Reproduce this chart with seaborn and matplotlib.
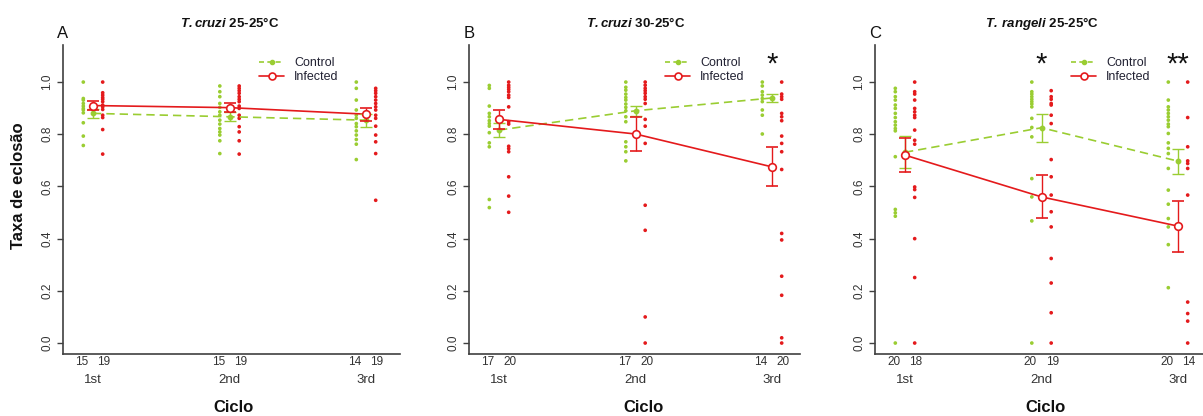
import matplotlib
matplotlib.use("Agg")
import matplotlib.pyplot as plt
from matplotlib.lines import Line2D
import numpy as np
import pandas as pd
import seaborn as sns

#%% data
cycles = ["1st", "2nd", "3rd"]
titles = [r"$\mathbfit{T.cruzi}$ 25-25°C",
          r"$\mathbfit{T.\,rangeli}$ 25-25°C"]
titles = [titles[0], r"$\mathbfit{T.cruzi}$ 30-25°C", titles[1]]
letters = ["A", "B", "C"]

# panel A
a_control_dots = [[1.0, 0.937, 0.931, 0.918, 0.908, 0.899, 0.893, 0.882, 0.844, 0.793, 0.757],
                  [0.985, 0.963, 0.944, 0.918, 0.903, 0.886, 0.873, 0.854, 0.839, 0.822, 0.809, 0.797, 0.775, 0.726],
                  [1.0, 0.976, 0.931, 0.893, 0.873, 0.861, 0.841, 0.829, 0.813, 0.797, 0.780, 0.762, 0.703]]
a_infected_dots = [[1.0, 0.959, 0.950, 0.941, 0.934, 0.925, 0.912, 0.905, 0.895, 0.873, 0.864, 0.818, 0.724],
                   [0.985, 0.976, 0.967, 0.957, 0.944, 0.934, 0.925, 0.908, 0.899, 0.873, 0.861, 0.829, 0.809, 0.775, 0.724],
                   [0.976, 0.967, 0.957, 0.944, 0.931, 0.918, 0.905, 0.893, 0.873, 0.861, 0.831, 0.797, 0.771, 0.726, 0.547]]
a_control_mean = [0.880, 0.867, 0.854]
a_control_err = [0.018, 0.017, 0.025]
a_infected_mean = [0.910, 0.902, 0.877]
a_infected_err = [0.017, 0.017, 0.025]
a_counts = [[15, 19], [15, 19], [14, 19]]

# panel B
b_control_dots = [[0.987, 0.976, 0.908, 0.880, 0.867, 0.852, 0.841, 0.831, 0.806, 0.767, 0.752, 0.550, 0.519],
                  [1.0, 0.980, 0.969, 0.954, 0.941, 0.931, 0.916, 0.903, 0.890, 0.867, 0.848, 0.771, 0.752, 0.733, 0.698],
                  [1.0, 0.985, 0.963, 0.950, 0.937, 0.925, 0.893, 0.873, 0.801]]
b_infected_dots = [[1.0, 0.988, 0.980, 0.972, 0.963, 0.950, 0.941, 0.905, 0.848, 0.839, 0.754, 0.745, 0.733, 0.637, 0.563, 0.501],
                   [1.0, 0.988, 0.976, 0.967, 0.957, 0.944, 0.934, 0.918, 0.857, 0.831, 0.765, 0.528, 0.432, 0.100, 0.0],
                   [1.0, 0.954, 0.944, 0.934, 0.880, 0.867, 0.852, 0.793, 0.765, 0.733, 0.665, 0.420, 0.395, 0.256, 0.183, 0.020, 0.0]]
b_control_mean = [0.816, 0.890, 0.939]
b_control_err = [0.028, 0.020, 0.016]
b_infected_mean = [0.857, 0.801, 0.675]
b_infected_err = [0.035, 0.066, 0.075]
b_counts = [[17, 20], [17, 20], [14, 20]]

# panel C
c_control_dots = [[0.976, 0.963, 0.944, 0.931, 0.912, 0.899, 0.880, 0.864, 0.848, 0.835, 0.822, 0.813, 0.714, 0.512, 0.499, 0.486, 0.0],
                  [1.0, 0.963, 0.954, 0.944, 0.934, 0.925, 0.916, 0.905, 0.861, 0.826, 0.790, 0.630, 0.560, 0.468, 0.0],
                  [1.0, 0.931, 0.905, 0.893, 0.880, 0.867, 0.854, 0.839, 0.829, 0.803, 0.767, 0.746, 0.726, 0.669, 0.586, 0.532, 0.477, 0.445, 0.377, 0.212]]
c_infected_dots = [[1.0, 0.963, 0.954, 0.931, 0.899, 0.886, 0.873, 0.864, 0.816, 0.777, 0.762, 0.598, 0.588, 0.558, 0.400, 0.251, 0.0],
                   [0.967, 0.944, 0.934, 0.918, 0.912, 0.873, 0.841, 0.703, 0.637, 0.567, 0.503, 0.445, 0.324, 0.230, 0.116, 0.0],
                   [1.0, 0.864, 0.752, 0.698, 0.688, 0.669, 0.567, 0.157, 0.113, 0.084, 0.0]]
c_control_mean = [0.731, 0.825, 0.697]
c_control_err = [0.062, 0.053, 0.048]
c_infected_mean = [0.720, 0.560, 0.448]
c_infected_err = [0.064, 0.082, 0.098]
c_counts = [[20, 18], [20, 19], [20, 14]]

# significance marks: (panel, cycle index, text)
stars = [(1, 2, "*"), (2, 1, "*"), (2, 2, "**")]

GREEN = "#9ACD32"
RED = "#E41A1C"
GREY = "#333333"
W, H = 1203, 416
OFF = 0.071


#%%
def draw_panel(ax, control_dots, infected_dots, control_mean, control_err,
               infected_mean, infected_err, counts):
    rows = []
    for i in range(len(cycles)):
        rows += [(i + 1 - OFF, v, "Control") for v in control_dots[i]]
        rows += [(i + 1 + OFF, v, "Infected") for v in infected_dots[i]]
    df = pd.DataFrame(rows, columns=["x", "rate", "group"])
    sns.scatterplot(data=df, x="x", y="rate", hue="group",
                    palette={"Control": GREEN, "Infected": RED},
                    s=7, linewidth=0, legend=False, ax=ax, zorder=2)

    pos = np.arange(1, len(cycles) + 1)
    ax.plot(pos, control_mean, color=GREEN, lw=1.2, dashes=(5, 3), zorder=3)
    ax.plot(pos, infected_mean, color=RED, lw=1.2, zorder=3)
    ax.errorbar(pos, control_mean, yerr=control_err, fmt="o", ms=3.2,
                color=GREEN, ecolor=GREEN, elinewidth=1, capsize=4.5,
                capthick=1, zorder=4)
    ax.errorbar(pos, infected_mean, yerr=infected_err, fmt="o", ms=5.5,
                mfc="white", mec=RED, mew=1.2, ecolor=RED, elinewidth=1,
                capsize=4.5, capthick=1, zorder=5)

    tr = ax.get_xaxis_transform()
    for i, (nc, ni) in enumerate(counts):
        ax.text(i + 1 - OFF - 0.01, -0.008, str(nc), transform=tr, ha="center",
                va="top", fontsize=8.5, color=GREY, clip_on=False)
        ax.text(i + 1 + OFF + 0.01, -0.008, str(ni), transform=tr, ha="center",
                va="top", fontsize=8.5, color=GREY, clip_on=False)
        ax.text(i + 1, -0.065, cycles[i], transform=tr, ha="center",
                va="top", fontsize=9.5, color=GREY, clip_on=False)


def main():
    sns.set_theme(style="white")
    plt.rcParams["font.family"] = ["Liberation Sans", "DejaVu Sans"]
    plt.rcParams["mathtext.fontset"] = "custom"
    plt.rcParams["mathtext.rm"] = "Liberation Sans"
    plt.rcParams["mathtext.bfit"] = "Liberation Sans:italic:bold"

    fig = plt.figure(figsize=(W / 100, H / 100), dpi=100)

    panels = [
        (a_control_dots, a_infected_dots, a_control_mean, a_control_err, a_infected_mean, a_infected_err, a_counts),
        (b_control_dots, b_infected_dots, b_control_mean, b_control_err, b_infected_mean, b_infected_err, b_counts),
        (c_control_dots, c_infected_dots, c_control_mean, c_control_err, c_infected_mean, c_infected_err, c_counts),
    ]
    lefts = [63, 469, 875]
    rights = [400, 800, 1203]
    title_x = [230, 636, 1042]
    ciclo_x = [234, 643, 1046]
    top, bottom = 45, 354
    step = 136.5

    for k, data in enumerate(panels):
        L, R = lefts[k], rights[k]
        ax = fig.add_axes([L / W, (H - bottom) / H, (R - L) / W, (bottom - top) / H])
        draw_panel(ax, *data)
        ax.set_xlim(1 - 30 / step, 1 + (R - L - 30) / step)
        ax.set_ylim(-0.042, 1.142)
        ax.set_xticks([])
        ax.set_yticks([0, 0.2, 0.4, 0.6, 0.8, 1.0])
        ax.set_yticklabels(["0.0", "0.2", "0.4", "0.6", "0.8", "1.0"], va="center")
        ax.tick_params(axis="y", left=True, length=4, width=1, color="#404040",
                       pad=3, labelsize=8.5, labelcolor=GREY, labelrotation=90)
        ax.set_xlabel("")
        ax.set_ylabel("")
        for side in ["top", "right"]:
            ax.spines[side].set_visible(False)
        for side in ["left", "bottom"]:
            ax.spines[side].set_color("#404040")
            ax.spines[side].set_linewidth(1.2)

        handles = [
            Line2D([], [], color=GREEN, lw=1.2, dashes=(3, 2), marker="o", ms=3),
            Line2D([], [], color=RED, lw=1.2, marker="o", ms=5, mfc="white", mew=1.2),
        ]
        ax.legend(handles, ["Control", "Infected"], loc="upper left",
                  bbox_to_anchor=(196 / (R - L), (bottom - 57) / (bottom - top)),
                  frameon=False, fontsize=9, handlelength=2.0, handletextpad=0.8,
                  labelspacing=0.2, borderpad=0, borderaxespad=0, labelcolor="#222233")

        fig.text(title_x[k] / W, 1 - 23 / H, titles[k], ha="center", va="center",
                 fontsize=9.5, fontweight="bold", color="#111111")
        fig.text(L / W, 1 - 33 / H, letters[k], ha="center", va="center",
                 fontsize=12, color="#111111")
        fig.text(ciclo_x[k] / W, 1 - 408 / H, "Ciclo", ha="center", va="center",
                 fontsize=12, fontweight="bold", color="#111111")

    for p, c, s in stars:
        x_px = lefts[p] + 30 + c * step
        fig.text(x_px / W, 1 - 73 / H, s, ha="center", va="baseline",
                 fontsize=21, color="#111111")

    fig.text(19 / W, 1 - 186 / H, "Taxa de eclosão", rotation=90, ha="center",
             va="center", fontsize=12, fontweight="bold", color="#111111")

    fig.savefig("out.png", dpi=100)


if __name__ == "__main__":
    main()
